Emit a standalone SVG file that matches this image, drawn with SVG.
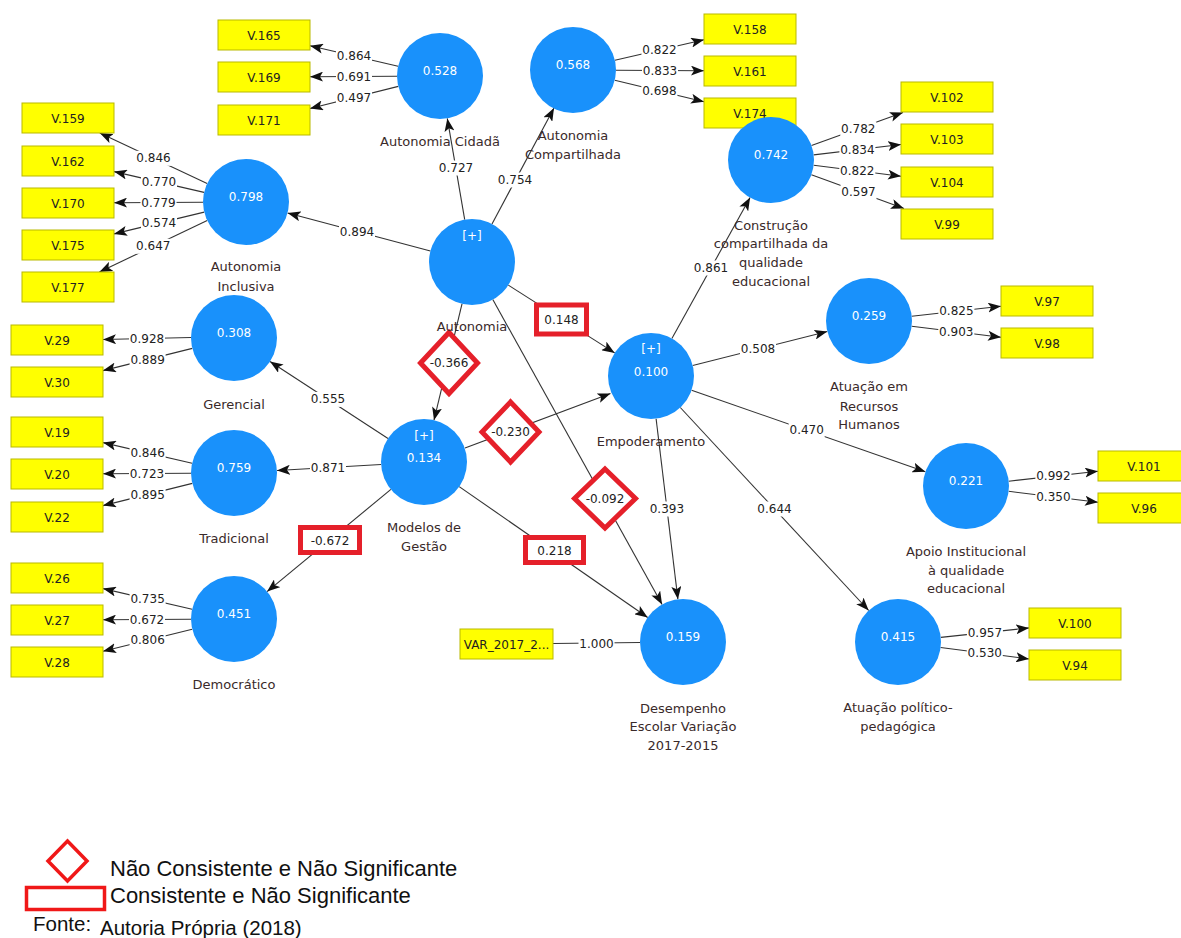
<svg xmlns="http://www.w3.org/2000/svg" width="1181" height="938" viewBox="0 0 1181 938">
<style>
  .ln{stroke:#333;stroke-width:1.1;fill:none}
  .ar{marker-end:url(#ah)}
  .lb{fill:#fff}
  .ev{font-family:"DejaVu Sans",sans-serif;font-size:12px;fill:#222;text-anchor:middle}
  .sig{fill:#fff;stroke:#e5202a;stroke-width:5;stroke-linejoin:miter}
  .box{fill:#ffff00;stroke:#b9b900;stroke-width:1}
  .bt{font-family:"DejaVu Sans",sans-serif;font-size:12px;fill:#222;text-anchor:middle}
  .cir{fill:#1991fb}
  .cv{font-family:"DejaVu Sans",sans-serif;font-size:12px;fill:#fff;text-anchor:middle}
  .nl{font-family:"DejaVu Sans",sans-serif;font-size:13px;fill:#3a2a2a;text-anchor:middle}
  .lg{font-family:"Liberation Sans",Arial,sans-serif;font-size:22px;fill:#111}
  .src{font-family:"Liberation Sans",Arial,sans-serif;font-size:20.5px;fill:#111}
  .lgs{fill:none;stroke:#f01818;stroke-width:3.5}
</style>
<defs>
  <marker id="ah" markerWidth="13" markerHeight="10" refX="13" refY="5" orient="auto" markerUnits="userSpaceOnUse">
    <path d="M0,0 L13,5 L0,10 L3,5 Z" fill="#111"/>
  </marker>
</defs>
<rect width="1181" height="938" fill="#fff"/>

<!-- connectors -->
<g id="connectors">
  <!-- outer loadings -->
  <line class="ln ar" x1="398.1" y1="66.2" x2="310" y2="45.7"/>
  <line class="ln ar" x1="397" y1="76.2" x2="310" y2="76.7"/>
  <line class="ln ar" x1="398.3" y1="86.4" x2="310" y2="108.5"/>
  <line class="ln ar" x1="207.1" y1="183.6" x2="99.8" y2="133"/>
  <line class="ln ar" x1="204.1" y1="192.4" x2="114" y2="171.6"/>
  <line class="ln ar" x1="203" y1="202.2" x2="114" y2="202.7"/>
  <line class="ln ar" x1="204.2" y1="212.1" x2="114" y2="233.9"/>
  <line class="ln ar" x1="207.2" y1="220.5" x2="99.4" y2="272"/>
  <line class="ln ar" x1="614.9" y1="60.3" x2="704" y2="39.7"/>
  <line class="ln ar" x1="616" y1="70.2" x2="704" y2="70.7"/>
  <line class="ln ar" x1="614.8" y1="80.2" x2="704" y2="101.8"/>
  <line class="ln ar" x1="811.5" y1="145.5" x2="903" y2="112.5"/>
  <line class="ln ar" x1="813.7" y1="154.9" x2="901" y2="144.5"/>
  <line class="ln ar" x1="813.7" y1="165.3" x2="901" y2="176.2"/>
  <line class="ln ar" x1="811.4" y1="174.7" x2="904" y2="208.5"/>
  <line class="ln ar" x1="191" y1="337.5" x2="103" y2="339.5"/>
  <line class="ln ar" x1="192.3" y1="348.4" x2="103" y2="370.6"/>
  <line class="ln ar" x1="192.1" y1="463.3" x2="103" y2="442.6"/>
  <line class="ln ar" x1="191" y1="473.2" x2="103" y2="473.7"/>
  <line class="ln ar" x1="192.3" y1="483.4" x2="103" y2="505.6"/>
  <line class="ln ar" x1="192.1" y1="609.3" x2="103" y2="588.6"/>
  <line class="ln ar" x1="191" y1="619.2" x2="103" y2="619.7"/>
  <line class="ln ar" x1="192.2" y1="629.2" x2="103" y2="651.2"/>
  <line class="ln ar" x1="911.7" y1="316.2" x2="1001" y2="306.2"/>
  <line class="ln ar" x1="911.7" y1="326.3" x2="1001" y2="337.3"/>
  <line class="ln ar" x1="1008.7" y1="481.2" x2="1098" y2="471.2"/>
  <line class="ln ar" x1="1008.7" y1="491.3" x2="1098" y2="502.3"/>
  <line class="ln ar" x1="940.8" y1="637.4" x2="1029" y2="627.9"/>
  <line class="ln ar" x1="940.6" y1="647.5" x2="1029" y2="659"/>
  <line class="ln" x1="553" y1="643.5" x2="640" y2="642.5"/>
  <!-- inner paths -->
  <line class="ln ar" x1="464.7" y1="219.6" x2="447.3" y2="118.4"/>
  <line class="ln ar" x1="492" y1="223.9" x2="554" y2="108.1"/>
  <line class="ln ar" x1="430.4" y1="251" x2="287.6" y2="213"/>
  <line class="ln ar" x1="508.3" y1="285.1" x2="614.7" y2="352.9"/>
  <line class="ln ar" x1="462" y1="303.8" x2="434" y2="420.2"/>
  <line class="ln ar" x1="492.8" y1="299.6" x2="662.1" y2="604.4"/>
  <line class="ln ar" x1="388" y1="438.5" x2="270" y2="361.5"/>
  <line class="ln ar" x1="381.1" y1="464.5" x2="277" y2="470.5"/>
  <line class="ln ar" x1="390.9" y1="489.4" x2="267.1" y2="591.6"/>
  <line class="ln ar" x1="465" y1="448" x2="610.5" y2="393.5"/>
  <line class="ln ar" x1="459.2" y1="486.6" x2="647.7" y2="617.5"/>
  <line class="ln ar" x1="671.9" y1="338.4" x2="750.1" y2="197.6"/>
  <line class="ln ar" x1="692.7" y1="365.5" x2="827.3" y2="331.5"/>
  <line class="ln ar" x1="691.6" y1="390.2" x2="925.4" y2="471.8"/>
  <line class="ln ar" x1="680.3" y1="407.5" x2="868.7" y2="610.5"/>
  <line class="ln ar" x1="656.1" y1="418.7" x2="677.9" y2="599.3"/>

  <!-- label backgrounds -->
  <rect class="lb" x="336" y="48.5" width="36" height="15"/>
  <rect class="lb" x="336" y="69" width="36" height="15"/>
  <rect class="lb" x="336" y="90" width="36" height="15"/>
  <rect class="lb" x="135.5" y="150.8" width="36" height="15"/>
  <rect class="lb" x="141" y="174.5" width="36" height="15"/>
  <rect class="lb" x="140.5" y="195" width="36" height="15"/>
  <rect class="lb" x="141" y="215.5" width="36" height="15"/>
  <rect class="lb" x="135.3" y="238.8" width="36" height="15"/>
  <rect class="lb" x="641.5" y="42.5" width="36" height="15"/>
  <rect class="lb" x="642" y="63" width="36" height="15"/>
  <rect class="lb" x="641.4" y="83.5" width="36" height="15"/>
  <rect class="lb" x="840.3" y="121.3" width="36" height="15"/>
  <rect class="lb" x="839.4" y="142.2" width="36" height="15"/>
  <rect class="lb" x="839.3" y="163.2" width="36" height="15"/>
  <rect class="lb" x="840.5" y="184.4" width="36" height="15"/>
  <rect class="lb" x="129" y="331" width="36" height="15"/>
  <rect class="lb" x="129.6" y="352" width="36" height="15"/>
  <rect class="lb" x="129.6" y="445.5" width="36" height="15"/>
  <rect class="lb" x="129" y="466" width="36" height="15"/>
  <rect class="lb" x="129.6" y="487" width="36" height="15"/>
  <rect class="lb" x="129.6" y="591.5" width="36" height="15"/>
  <rect class="lb" x="129" y="612" width="36" height="15"/>
  <rect class="lb" x="129.6" y="632.7" width="36" height="15"/>
  <rect class="lb" x="938.4" y="303.7" width="36" height="15"/>
  <rect class="lb" x="938.3" y="324.3" width="36" height="15"/>
  <rect class="lb" x="1035.4" y="468.7" width="36" height="15"/>
  <rect class="lb" x="1035.4" y="489.3" width="36" height="15"/>
  <rect class="lb" x="966.9" y="625.2" width="36" height="15"/>
  <rect class="lb" x="966.8" y="645.8" width="36" height="15"/>
  <rect class="lb" x="578.5" y="636" width="36" height="15"/>
  <rect class="lb" x="438" y="160.5" width="36" height="15"/>
  <rect class="lb" x="497" y="172.5" width="36" height="15"/>
  <rect class="lb" x="339" y="224" width="36" height="15"/>
  <rect class="lb" x="310" y="391.9" width="36" height="15"/>
  <rect class="lb" x="310" y="460.1" width="36" height="15"/>
  <rect class="lb" x="693" y="260.5" width="36" height="15"/>
  <rect class="lb" x="740" y="341.5" width="36" height="15"/>
  <rect class="lb" x="788.7" y="422.9" width="36" height="15"/>
  <rect class="lb" x="756.5" y="501.5" width="36" height="15"/>
  <rect class="lb" x="648.9" y="501.5" width="36" height="15"/>

  <!-- loading values -->
  <text class="ev" x="354" y="60">0.864</text>
  <text class="ev" x="354" y="80.5">0.691</text>
  <text class="ev" x="354" y="101.5">0.497</text>
  <text class="ev" x="153.5" y="162.3">0.846</text>
  <text class="ev" x="159" y="186">0.770</text>
  <text class="ev" x="158.5" y="206.5">0.779</text>
  <text class="ev" x="159" y="227">0.574</text>
  <text class="ev" x="153.3" y="250.3">0.647</text>
  <text class="ev" x="659.5" y="54">0.822</text>
  <text class="ev" x="660" y="74.5">0.833</text>
  <text class="ev" x="659.4" y="95">0.698</text>
  <text class="ev" x="858.3" y="132.8">0.782</text>
  <text class="ev" x="857.4" y="153.7">0.834</text>
  <text class="ev" x="857.3" y="174.7">0.822</text>
  <text class="ev" x="858.5" y="195.9">0.597</text>
  <text class="ev" x="147" y="342.5">0.928</text>
  <text class="ev" x="147.6" y="363.5">0.889</text>
  <text class="ev" x="147.6" y="457">0.846</text>
  <text class="ev" x="147" y="477.5">0.723</text>
  <text class="ev" x="147.6" y="498.5">0.895</text>
  <text class="ev" x="147.6" y="603">0.735</text>
  <text class="ev" x="147" y="623.5">0.672</text>
  <text class="ev" x="147.6" y="644.2">0.806</text>
  <text class="ev" x="956.4" y="315.2">0.825</text>
  <text class="ev" x="956.3" y="335.8">0.903</text>
  <text class="ev" x="1053.4" y="480.2">0.992</text>
  <text class="ev" x="1053.4" y="500.8">0.350</text>
  <text class="ev" x="984.9" y="636.7">0.957</text>
  <text class="ev" x="984.8" y="657.3">0.530</text>
  <text class="ev" x="596.5" y="647.5">1.000</text>
  <!-- path coefficients -->
  <text class="ev" x="456" y="172">0.727</text>
  <text class="ev" x="515" y="184">0.754</text>
  <text class="ev" x="357" y="235.5">0.894</text>
  <text class="ev" x="328" y="403.4">0.555</text>
  <text class="ev" x="328" y="471.6">0.871</text>
  <text class="ev" x="711" y="272">0.861</text>
  <text class="ev" x="758" y="353">0.508</text>
  <text class="ev" x="806.7" y="434.4">0.470</text>
  <text class="ev" x="774.5" y="513">0.644</text>
  <text class="ev" x="666.9" y="513">0.393</text>

  <!-- highlighted coefficients -->
  <rect class="sig" x="536.5" y="305" width="50" height="29"/>
  <text class="ev" x="561.5" y="323.5">0.148</text>
  <path class="sig" d="M449,332.5 L477.5,363 L449,393.5 L420.5,363 Z"/>
  <text class="ev" x="449" y="367">-0.366</text>
  <path class="sig" d="M510.5,402 L539,432 L510.5,462 L482,432 Z"/>
  <text class="ev" x="510.5" y="436">-0.230</text>
  <path class="sig" d="M605,469 L635.5,498.5 L605,528 L574.5,498.5 Z"/>
  <text class="ev" x="605" y="502.5">-0.092</text>
  <rect class="sig" x="300.5" y="527.5" width="59" height="25"/>
  <text class="ev" x="330" y="544.5">-0.672</text>
  <rect class="sig" x="525.5" y="537.5" width="58" height="25"/>
  <text class="ev" x="554.5" y="554.5">0.218</text>
</g>

<!-- indicators -->
<g id="v165"><rect class="box" x="218" y="20" width="92" height="30"/><text class="bt" x="264" y="39.5">V.165</text></g>
<g id="v169"><rect class="box" x="218" y="62" width="92" height="30"/><text class="bt" x="264" y="81.5">V.169</text></g>
<g id="v171"><rect class="box" x="218" y="105" width="92" height="30"/><text class="bt" x="264" y="124.5">V.171</text></g>
<g id="v159"><rect class="box" x="22" y="103" width="92" height="30"/><text class="bt" x="68" y="122.5">V.159</text></g>
<g id="v162"><rect class="box" x="22" y="146" width="92" height="30"/><text class="bt" x="68" y="165.5">V.162</text></g>
<g id="v170"><rect class="box" x="22" y="188" width="92" height="30"/><text class="bt" x="68" y="207.5">V.170</text></g>
<g id="v175"><rect class="box" x="22" y="230" width="92" height="30"/><text class="bt" x="68" y="249.5">V.175</text></g>
<g id="v177"><rect class="box" x="22" y="272" width="92" height="30"/><text class="bt" x="68" y="291.5">V.177</text></g>
<g id="v158"><rect class="box" x="704" y="14" width="92" height="30"/><text class="bt" x="750" y="33.5">V.158</text></g>
<g id="v161"><rect class="box" x="704" y="56" width="92" height="30"/><text class="bt" x="750" y="75.5">V.161</text></g>
<g id="v174"><rect class="box" x="704" y="98" width="92" height="30"/><text class="bt" x="750" y="117.5">V.174</text></g>
<g id="v102"><rect class="box" x="901" y="82" width="92" height="30"/><text class="bt" x="947" y="101.5">V.102</text></g>
<g id="v103"><rect class="box" x="901" y="124" width="92" height="30"/><text class="bt" x="947" y="143.5">V.103</text></g>
<g id="v104"><rect class="box" x="901" y="167" width="92" height="30"/><text class="bt" x="947" y="186.5">V.104</text></g>
<g id="v99"><rect class="box" x="901" y="209" width="92" height="30"/><text class="bt" x="947" y="228.5">V.99</text></g>
<g id="v29"><rect class="box" x="11" y="325" width="92" height="30"/><text class="bt" x="57" y="344.5">V.29</text></g>
<g id="v30"><rect class="box" x="11" y="367" width="92" height="30"/><text class="bt" x="57" y="386.5">V.30</text></g>
<g id="v19"><rect class="box" x="11" y="417" width="92" height="30"/><text class="bt" x="57" y="436.5">V.19</text></g>
<g id="v20"><rect class="box" x="11" y="459" width="92" height="30"/><text class="bt" x="57" y="478.5">V.20</text></g>
<g id="v22"><rect class="box" x="11" y="502" width="92" height="30"/><text class="bt" x="57" y="521.5">V.22</text></g>
<g id="v26"><rect class="box" x="11" y="563" width="92" height="30"/><text class="bt" x="57" y="582.5">V.26</text></g>
<g id="v27"><rect class="box" x="11" y="605" width="92" height="30"/><text class="bt" x="57" y="624.5">V.27</text></g>
<g id="v28"><rect class="box" x="11" y="647" width="92" height="30"/><text class="bt" x="57" y="666.5">V.28</text></g>
<g id="v97"><rect class="box" x="1001" y="286" width="92" height="30"/><text class="bt" x="1047" y="305.5">V.97</text></g>
<g id="v98"><rect class="box" x="1001" y="328" width="92" height="30"/><text class="bt" x="1047" y="347.5">V.98</text></g>
<g id="v101"><rect class="box" x="1098" y="451" width="92" height="30"/><text class="bt" x="1144" y="470.5">V.101</text></g>
<g id="v96"><rect class="box" x="1098" y="493" width="92" height="30"/><text class="bt" x="1144" y="512.5">V.96</text></g>
<g id="v100"><rect class="box" x="1029" y="608" width="92" height="30"/><text class="bt" x="1075" y="627.5">V.100</text></g>
<g id="v94"><rect class="box" x="1029" y="650" width="92" height="30"/><text class="bt" x="1075" y="669.5">V.94</text></g>
<g id="var2017"><rect class="box" x="460" y="629" width="93" height="30"/><text class="bt" x="506.5" y="648.5">VAR_2017_2...</text></g>

<!-- constructs -->
<g id="autonomia-cidada"><circle class="cir" cx="440" cy="76" r="43"/><text class="cv" x="440" y="75">0.528</text><text class="nl" x="440" y="146">Autonomia Cidadã</text></g>
<g id="autonomia-compartilhada"><circle class="cir" cx="573" cy="70" r="43"/><text class="cv" x="573" y="69">0.568</text><text class="nl" x="573" y="139.5">Autonomia</text><text class="nl" x="573" y="158.5">Compartilhada</text></g>
<g id="construcao"><circle class="cir" cx="771" cy="160" r="43"/><text class="cv" x="771" y="159">0.742</text><text class="nl" x="771" y="229.5">Construção</text><text class="nl" x="771" y="248">compartilhada da</text><text class="nl" x="771" y="266.5">qualidade</text><text class="nl" x="771" y="285.5">educacional</text></g>
<g id="autonomia-inclusiva"><circle class="cir" cx="246" cy="202" r="43"/><text class="cv" x="246" y="201">0.798</text><text class="nl" x="246" y="271">Autonomia</text><text class="nl" x="246" y="290.5">Inclusiva</text></g>
<g id="autonomia"><circle class="cir" cx="472" cy="262" r="43"/><text class="cv" x="472" y="239.5">[+]</text><text class="nl" x="472" y="331">Autonomia</text></g>
<g id="gerencial"><circle class="cir" cx="234" cy="338" r="43"/><text class="cv" x="234" y="337">0.308</text><text class="nl" x="234" y="408.5">Gerencial</text></g>
<g id="tradicional"><circle class="cir" cx="234" cy="473" r="43"/><text class="cv" x="234" y="472">0.759</text><text class="nl" x="234" y="543">Tradicional</text></g>
<g id="democratico"><circle class="cir" cx="234" cy="619" r="43"/><text class="cv" x="234" y="618">0.451</text><text class="nl" x="234" y="688.5">Democrático</text></g>
<g id="modelos-gestao"><circle class="cir" cx="424" cy="462" r="43"/><text class="cv" x="424" y="439.5">[+]</text><text class="cv" x="424" y="461.5">0.134</text><text class="nl" x="424" y="532">Modelos de</text><text class="nl" x="424" y="550.5">Gestão</text></g>
<g id="empoderamento"><circle class="cir" cx="651" cy="376" r="43"/><text class="cv" x="651" y="352.5">[+]</text><text class="cv" x="651" y="375.5">0.100</text><text class="nl" x="651" y="446">Empoderamento</text></g>
<g id="recursos-humanos"><circle class="cir" cx="869" cy="321" r="43"/><text class="cv" x="869" y="320">0.259</text><text class="nl" x="869" y="391">Atuação em</text><text class="nl" x="869" y="410.5">Recursos</text><text class="nl" x="869" y="429">Humanos</text></g>
<g id="apoio-institucional"><circle class="cir" cx="966" cy="486" r="43"/><text class="cv" x="966" y="485">0.221</text><text class="nl" x="966" y="555.5">Apoio Institucional</text><text class="nl" x="966" y="574.5">à qualidade</text><text class="nl" x="966" y="593">educacional</text></g>
<g id="politico-pedagogica"><circle class="cir" cx="898" cy="642" r="43"/><text class="cv" x="898" y="641">0.415</text><text class="nl" x="898" y="712">Atuação político-</text><text class="nl" x="898" y="731">pedagógica</text></g>
<g id="desempenho"><circle class="cir" cx="683" cy="642" r="43"/><text class="cv" x="683" y="641">0.159</text><text class="nl" x="683" y="712.5">Desempenho</text><text class="nl" x="683" y="731">Escolar Variação</text><text class="nl" x="683" y="749.5">2017-2015</text></g>

<!-- legend -->
<g id="legend">
  <path class="lgs" d="M67.5,841 L87,861 L67.5,881 L48,861 Z"/>
  <text class="lg" x="110" y="876">Não Consistente e Não Significante</text>
  <rect class="lgs" x="26.5" y="887.5" width="78" height="22"/>
  <text class="lg" x="110" y="903">Consistente e Não Significante</text>
  <text class="src" x="33" y="931">Fonte:</text>
  <text class="src" x="100" y="935">Autoria Própria (2018)</text>
</g>
</svg>
